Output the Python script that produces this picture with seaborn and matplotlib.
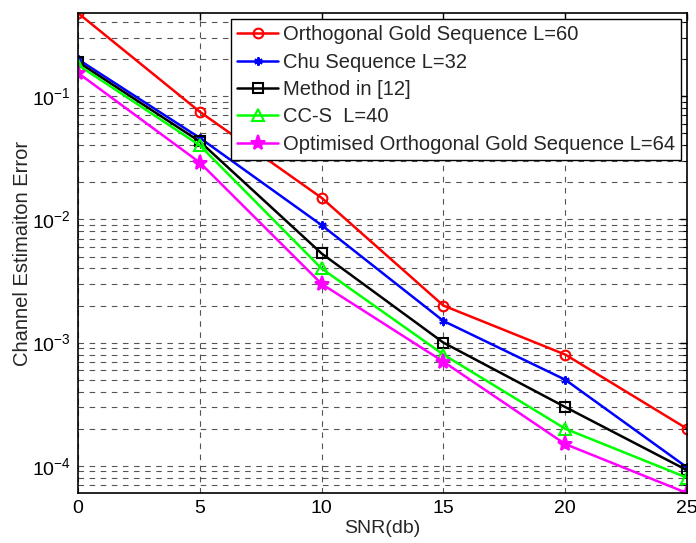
import numpy as np
import pandas as pd
import matplotlib
matplotlib.use("Agg")
import matplotlib.pyplot as plt
import seaborn as sns
from matplotlib.ticker import LogLocator, NullFormatter

snr = [0, 5, 10, 15, 20, 25]
gold_60 = [0.475, 0.075, 0.015, 0.002, 8e-4, 2e-4]
chu_32 = [0.20, 0.046, 0.009, 0.0015, 5e-4, 9.7e-5]
method_12 = [0.19, 0.043, 0.0053, 0.001, 3e-4, 9.2e-5]
ccs_40 = [0.18, 0.040, 0.004, 8e-4, 2e-4, 8e-5]
opt_gold_64 = [0.155, 0.029, 0.003, 7e-4, 1.5e-4, 6e-5]

labels = ["Orthogonal Gold Sequence L=60", "Chu Sequence L=32", "Method in [12]",
          "CC-S  L=40", "Optimised Orthogonal Gold Sequence L=64"]
series = [gold_60, chu_32, method_12, ccs_40, opt_gold_64]

sns.set_style("white")
plt.rcParams['font.family'] = ['Liberation Sans', 'DejaVu Sans']
plt.rcParams['mathtext.fontset'] = 'custom'
plt.rcParams['mathtext.rm'] = 'Liberation Sans'

colors = ["#ff0000", "#0000ff", "#000000", "#00ff00", "#ff00ff"]
markers = ["o", (6, 2, 0), "s", "^", "*"]
msizes = [7, 6, 7, 8, 11]
faces = ["none", "#0000ff", "none", "none", "#ff00ff"]

fig = plt.figure(figsize=(6.96, 5.43), dpi=100)
ax = fig.add_axes([0.112, 0.092, 0.875, 0.884])

for vals, lab, c, m, ms, fc in zip(series, labels, colors, markers, msizes, faces):
    sns.lineplot(x=snr, y=vals, ax=ax, color=c, marker=m, markersize=ms,
                 markerfacecolor=fc, markeredgecolor=c, markeredgewidth=1.5,
                 linewidth=1.8, label=lab)

ax.set_yscale("log")
ax.set_xlim(0, 25)
allv = np.concatenate([np.array(s) for s in series])
ax.set_ylim(allv.min(), allv.max())
ax.set_xticks(snr)
ax.yaxis.set_major_locator(LogLocator(base=10))
ax.yaxis.set_minor_locator(LogLocator(base=10, subs=np.arange(2, 10)))
ax.yaxis.set_minor_formatter(NullFormatter())

ax.grid(True, which="both", axis="y", color="#555555", linestyle=(0, (5, 5)), linewidth=0.8)
ax.grid(True, which="major", axis="x", color="#555555", linestyle=(0, (5, 5)), linewidth=0.8)
ax.set_axisbelow(True)

ax.tick_params(which="both", direction="in", top=True, right=True, labelsize=14, colors="black")
ax.tick_params(which="major", length=5, width=1, pad=5)
ax.tick_params(which="minor", length=3, width=0.8)
for sp in ax.spines.values():
    sp.set_color("black")
    sp.set_linewidth(1.2)

ax.set_xlabel("SNR(db)", fontsize=14, labelpad=2)
ax.set_ylabel("Channel Estimaiton Error", fontsize=14.5, labelpad=0)

leg = ax.legend(loc="upper right", fontsize=14.5, fancybox=False, edgecolor="black",
                framealpha=1, borderaxespad=0.3, handlelength=2.0, labelspacing=0.42,
                borderpad=0.3, handletextpad=0.25)
leg.get_frame().set_linewidth(1.0)

plt.savefig("out.png", dpi=100)
